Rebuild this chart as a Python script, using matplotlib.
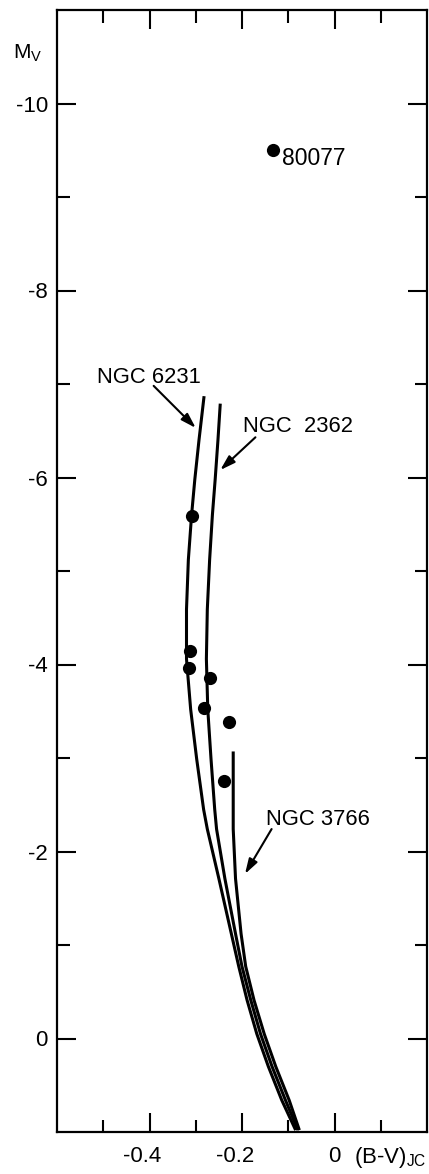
import matplotlib
matplotlib.use("Agg")
import matplotlib.pyplot as plt
from matplotlib.transforms import ScaledTranslation

plt.rcParams['font.family'] = ['Liberation Sans', 'DejaVu Sans']
plt.rcParams['mathtext.fontset'] = 'custom'
plt.rcParams['mathtext.rm'] = 'Liberation Sans'
plt.rcParams['mathtext.it'] = 'Liberation Sans'

# ---- data (B-V, M_V) ----
ngc6231_bv = [-0.282, -0.293, -0.302, -0.309, -0.316, -0.320, -0.320, -0.311, -0.298,
              -0.283, -0.275, -0.250, -0.223, -0.207, -0.189, -0.168, -0.143, -0.114, -0.084]
ngc6231_mv = [-6.87, -6.40, -5.98, -5.60, -5.12, -4.59, -4.06, -3.52, -2.99,
              -2.45, -2.24, -1.71, -1.12, -0.77, -0.41, -0.05, 0.30, 0.66, 0.98]

ngc2362_bv = [-0.247, -0.252, -0.258, -0.264, -0.270, -0.275, -0.277, -0.274, -0.267,
              -0.259, -0.255, -0.237, -0.214, -0.200, -0.181, -0.160, -0.135, -0.106, -0.079]
ngc2362_mv = [-6.79, -6.40, -5.98, -5.60, -5.12, -4.59, -4.06, -3.52, -2.99,
              -2.45, -2.24, -1.71, -1.12, -0.77, -0.41, -0.05, 0.30, 0.66, 0.98]

ngc3766_bv = [-0.219, -0.219, -0.214, -0.202, -0.192, -0.174, -0.152, -0.127, -0.098, -0.076]
ngc3766_mv = [-3.07, -2.24, -1.71, -1.12, -0.77, -0.41, -0.05, 0.30, 0.66, 0.98]

stars_bv = [-0.308, -0.312, -0.314, -0.270, -0.283, -0.229, -0.240]
stars_mv = [-5.59, -4.14, -3.96, -3.86, -3.53, -3.38, -2.75]

star80077_bv = -0.133
star80077_mv = -9.50
star80077_label = "80077"

cluster_labels = ["NGC 6231", "NGC  2362", "NGC 3766"]
label_pos = [(-0.514, -7.01), (-0.198, -6.49), (-0.149, -2.28)]
arrow_start = [(-0.391, -6.98), (-0.171, -6.43), (-0.136, -2.24)]
arrow_end = [(-0.300, -6.53), (-0.247, -6.08), (-0.1935, -1.76)]

xmajor = [-0.4, -0.2, 0.0]
xmajor_labels = ["-0.4", "-0.2", "0"]
xminor = [-0.5, -0.3, -0.1, 0.1]
ymajor = [-10, -8, -6, -4, -2, 0]
ymajor_labels = ["-10", "-8", "-6", "-4", "-2", "0"]
yminor = [-9, -7, -5, -3, -1]

# ---- figure ----
fig = plt.figure(figsize=(4.29, 11.74), dpi=100)
ax = fig.add_axes([57/429, 1 - 1132/1174, (427 - 57)/429, (1132 - 10)/1174])

lw = 2.2
for bv, mv in [(ngc6231_bv, ngc6231_mv), (ngc2362_bv, ngc2362_mv), (ngc3766_bv, ngc3766_mv)]:
    ax.plot(bv, mv, color='black', lw=lw, solid_capstyle='butt', solid_joinstyle='round')
ax.plot(stars_bv, stars_mv, 'o', color='black', ms=9.5, mew=0)
ax.plot([star80077_bv], [star80077_mv], 'o', color='black', ms=9.5, mew=0)

ax.text(-0.114, -9.34, star80077_label, fontsize=16.5, ha='left', va='baseline')

for lab, (tx, ty), s, e in zip(cluster_labels, label_pos, arrow_start, arrow_end):
    ax.text(tx, ty, lab, fontsize=15.8, ha='left', va='baseline')
    ax.annotate('', xy=e, xytext=s,
                arrowprops=dict(arrowstyle='-|>,head_length=0.9,head_width=0.28',
                                color='black', lw=1.5, shrinkA=0, shrinkB=0))

ax.set_xlim(-0.6, 0.2)
ax.set_ylim(1, -11)

ax.set_xticks(xmajor)
ax.set_xticklabels(xmajor_labels)
ax.set_xticks(xminor, minor=True)
ax.set_yticks(ymajor)
ax.set_yticklabels(ymajor_labels)
ax.set_yticks(yminor, minor=True)

ax.tick_params(which='both', direction='in', top=True, right=True, width=1.5,
               labelsize=16, color='black')
ax.tick_params(which='major', length=13.5)
ax.tick_params(which='minor', length=9)
ax.tick_params(axis='x', which='major', pad=10)
ax.tick_params(axis='y', which='major', pad=6.5)

for sp in ax.spines.values():
    sp.set_linewidth(1.6)

for lab in ax.get_xticklabels():
    if lab.get_text().startswith('-'):
        lab.set_transform(lab.get_transform() + ScaledTranslation(-7/100, 0, fig.dpi_scale_trans))

fig.text(13/429, 1 - 59/1174, r"M$_{\rm V}$", fontsize=15, ha='left', va='baseline')
fig.text(354/429, 1 - 1163/1174, r"(B-V)$_{\rm JC}$", fontsize=16, ha='left', va='baseline')

fig.savefig("out.png", dpi=100)
